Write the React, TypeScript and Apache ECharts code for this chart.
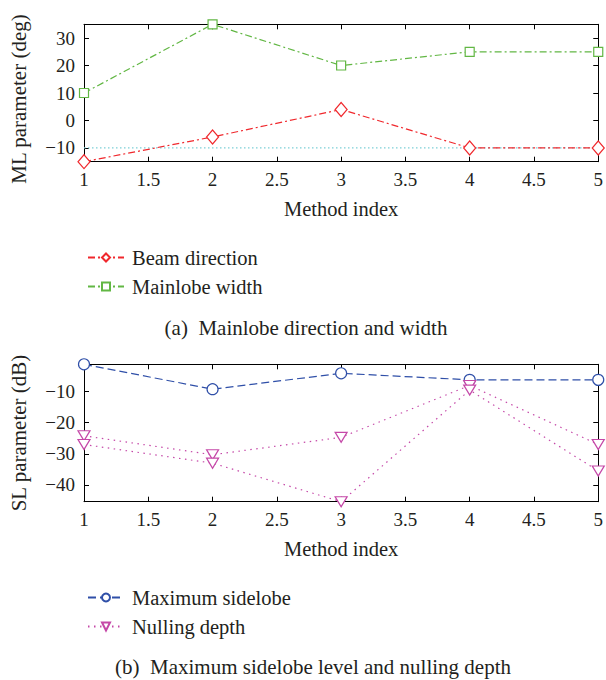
import React, { useEffect, useRef } from "react";
import * as echarts from "echarts";

// ---- data ----
const methodIndex = [1, 2, 3, 4, 5];

// (a) Mainlobe direction and width (deg)
const beamDirection = [-15, -6, 4, -10, -10];
const mainlobeWidth = [10, 35, 20, 25, 25];
const referenceDirection = [-10, -10];
const referenceX = [1, 5];
const mlTicks = [-10, 0, 10, 20, 30];
const mlRange = [-15, 35];

// (b) Maximum sidelobe level and nulling depth (dB)
const maxSidelobe = [-1.2, -9.2, -4.1, -6.2, -6.2];
const nullingDepthA = [-24.2, -30.3, -24.7, -8, -27];
const nullingDepthB = [-27, -33, -45.4, -9.5, -35.5];
const slTicks = [-40, -30, -20, -10];
const slRange = [-45.4, -1.2];

const pairs = (xs: number[], ys: number[]) => xs.map((x, i) => [x, ys[i]]);

const FONT = "'Liberation Serif', 'DejaVu Serif', serif";
const TXT = "#231f20";

const fmt = (v: number) => (v < 0 ? "\u2212" + String(-v) : String(v));

function xAxes(grid: number) {
  const base = {
    gridIndex: grid,
    type: "value",
    min: 1,
    max: 5,
    interval: 0.5,
    splitLine: { show: false },
    axisLine: { show: true, onZero: false, lineStyle: { color: "#000", width: 1 } },
    axisTick: { show: true, inside: true, length: 5, lineStyle: { color: "#000", width: 1 } },
  };
  return [
    {
      ...base,
      position: "bottom",
      axisLabel: {
        show: true,
        margin: 8,
        fontSize: 19,
        fontFamily: FONT,
        color: TXT,
        formatter: (v: number) => String(v),
      },
      name: "Method index",
      nameLocation: "middle",
      nameGap: 37,
      nameTextStyle: { fontSize: 20.5, fontFamily: FONT, color: TXT },
    },
    { ...base, position: "top", axisLabel: { show: false } },
  ];
}

function yAxes(grid: number, range: number[], ticks: number[], name: string, shift: number) {
  const base = {
    gridIndex: grid,
    type: "value",
    min: range[0],
    max: range[1],
    splitLine: { show: false },
    axisLine: { show: true, onZero: false, lineStyle: { color: "#000", width: 1 } },
    axisTick: {
      show: true,
      inside: true,
      length: 5,
      customValues: ticks,
      lineStyle: { color: "#000", width: 1 },
    },
  };
  return [
    {
      ...base,
      position: "left",
      axisLabel: {
        show: true,
        margin: 9,
        fontSize: 19,
        fontFamily: FONT,
        color: TXT,
        customValues: ticks,
        formatter: fmt,
      },
      name,
      nameLocation: "middle",
      nameGap: 55,
      nameTextStyle: {
        fontSize: 21,
        fontFamily: FONT,
        color: TXT,
        padding: shift > 0 ? [0, shift * 2, 0, 0] : [0, 0, 0, -shift * 2],
      },
    },
    { ...base, position: "right", axisLabel: { show: false } },
  ];
}

function lineSeries(
  name: string,
  data: number[][],
  xi: number,
  color: string,
  dash: number[],
  symbol: string,
  symbolSize: number | number[],
  rotate = 0
) {
  return {
    type: "line",
    name,
    data,
    xAxisIndex: xi,
    yAxisIndex: xi,
    symbol,
    symbolSize,
    symbolRotate: rotate,
    showSymbol: symbol !== "none",
    clip: false,
    color,
    itemStyle: { color: "#fff", borderColor: color, borderWidth: 1.2 },
    lineStyle: { color, width: 1.2, type: dash },
    emphasis: { disabled: true },
    z: 3,
  };
}

export default function App() {
  const ref = useRef<HTMLDivElement>(null);
  useEffect(() => {
    if (!ref.current) return;
    const chart = echarts.init(ref.current, null, { renderer: "svg" });
    const legendBase = {
      orient: "vertical",
      left: 82,
      itemWidth: 36,
      itemHeight: 10,
      itemGap: 8,
      selectedMode: false,
      textStyle: { fontSize: 20.5, fontFamily: FONT, color: TXT, padding: [0, 0, 0, 3] },
    };
    const option = {
      animation: false,
      backgroundColor: "#fff",
      textStyle: { fontFamily: FONT },
      grid: [
        { left: 82.7, right: 3.3, top: 24.3, height: 137.4 },
        { left: 84, right: 3.3, top: 364.3, height: 137.4 },
      ],
      xAxis: [...xAxes(0), ...xAxes(1)],
      yAxis: [
        ...yAxes(0, mlRange, mlTicks, "ML parameter (deg)", 6),
        ...yAxes(1, slRange, slTicks, "SL parameter (dB)", 0),
      ],
      legend: [
        { ...legendBase, data: ["Beam direction", "Mainlobe width"], top: 242 },
        { ...legendBase, data: ["Maximum sidelobe", "Nulling depth"], top: 582 },
      ],
      series: [
        {
          ...lineSeries("Reference", pairs(referenceX, referenceDirection), 0, "#7ccfd6", [1.5, 2.5], "none", 0),
          z: 2,
        },
        lineSeries("Beam direction", pairs(methodIndex, beamDirection), 0, "#f0282d", [7, 3, 2, 3], "diamond", [12, 14]),
        lineSeries("Mainlobe width", pairs(methodIndex, mainlobeWidth), 0, "#62b744", [7, 3, 2, 3], "rect", 9),
        lineSeries("Maximum sidelobe", pairs(methodIndex, maxSidelobe), 2, "#2f4fa8", [8, 4], "circle", 11),
        lineSeries("Nulling depth", pairs(methodIndex, nullingDepthA), 2, "#c548a8", [1.5, 4.5], "triangle", [12, 10], 180),
        lineSeries("Nulling depth", pairs(methodIndex, nullingDepthB), 2, "#c548a8", [1.5, 4.5], "triangle", [12, 10], 180),
      ],
      graphic: [
        {
          type: "text",
          x: 306,
          y: 328,
          style: {
            text: "(a)  Mainlobe direction and width",
            fontSize: 21,
            fontFamily: FONT,
            fill: TXT,
            textAlign: "center",
            textVerticalAlign: "middle",
          },
        },
        {
          type: "text",
          x: 313,
          y: 667,
          style: {
            text: "(b)  Maximum sidelobe level and nulling depth",
            fontSize: 21,
            fontFamily: FONT,
            fill: TXT,
            textAlign: "center",
            textVerticalAlign: "middle",
          },
        },
      ],
    };
    chart.setOption(option as any);
    return () => chart.dispose();
  }, []);
  return (
    <div
      ref={ref}
      style={{ position: "absolute", left: 0, top: 0, width: 606, height: 680 }}
    />
  );
}
